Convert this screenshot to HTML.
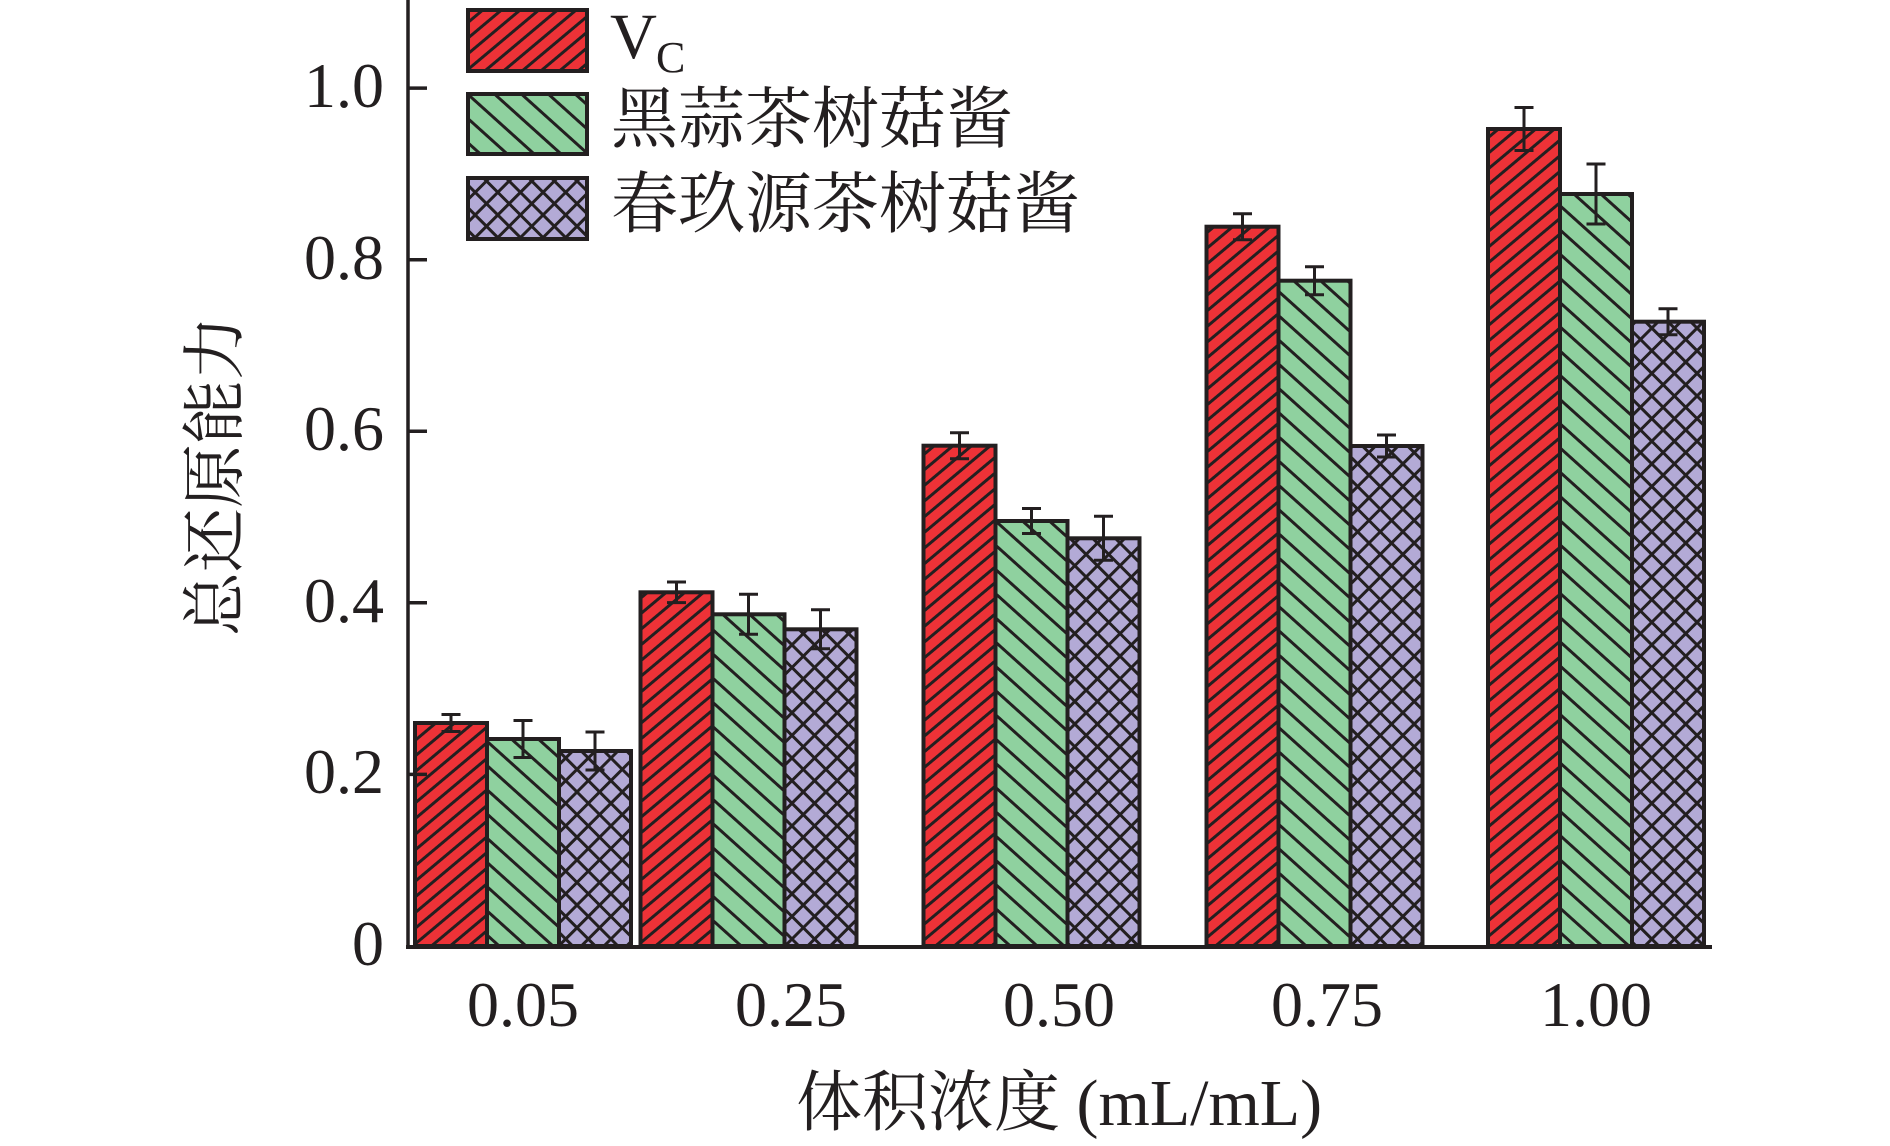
<!DOCTYPE html>
<html>
<head>
<meta charset="utf-8">
<style>
  html, body { margin: 0; padding: 0; background: #ffffff; }
  svg { display: block; }
  .num { font-family: "Liberation Serif", "Noto Serif CJK SC", serif; fill: #231f20; }
  .cjk { font-family: "Liberation Serif", "Noto Serif CJK SC", serif; fill: #231f20; }
</style>
</head>
<body>
<svg width="1890" height="1146" viewBox="0 0 1890 1146" xmlns="http://www.w3.org/2000/svg">
  <defs>
    <pattern id="pr" patternUnits="userSpaceOnUse" width="12" height="12" patternTransform="rotate(-40)">
      <rect width="12" height="12" fill="#ED3237"/>
      <line x1="-1" y1="6" x2="13" y2="6" stroke="#231f20" stroke-width="3"/>
    </pattern>
    <pattern id="pg" patternUnits="userSpaceOnUse" width="18" height="18" patternTransform="rotate(42)">
      <rect width="18" height="18" fill="#8FD19F"/>
      <line x1="-1" y1="9" x2="19" y2="9" stroke="#231f20" stroke-width="3"/>
    </pattern>
    <pattern id="pp" patternUnits="userSpaceOnUse" width="16" height="16" patternTransform="rotate(45)">
      <rect width="16" height="16" fill="#B3AAD6"/>
      <line x1="-1" y1="8" x2="17" y2="8" stroke="#231f20" stroke-width="3"/>
      <line x1="8" y1="-1" x2="8" y2="17" stroke="#231f20" stroke-width="3"/>
    </pattern>
  </defs>

  <!-- Bars -->
  <g stroke="#231f20" stroke-width="4">
    <!-- 0.05 -->
    <rect x="415" y="723" width="72" height="223" fill="url(#pr)"/>
    <rect x="487" y="739" width="72" height="207" fill="url(#pg)"/>
    <rect x="559" y="751" width="72" height="195" fill="url(#pp)"/>
    <!-- 0.25 -->
    <rect x="640.5" y="592.3" width="72" height="353.7" fill="url(#pr)"/>
    <rect x="712.5" y="614.3" width="72" height="331.7" fill="url(#pg)"/>
    <rect x="784.5" y="629.3" width="72" height="316.7" fill="url(#pp)"/>
    <!-- 0.50 -->
    <rect x="923.5" y="445.7" width="72" height="500.3" fill="url(#pr)"/>
    <rect x="995.5" y="521" width="72" height="425" fill="url(#pg)"/>
    <rect x="1067.5" y="538.3" width="72" height="407.7" fill="url(#pp)"/>
    <!-- 0.75 -->
    <rect x="1206.5" y="226.7" width="72" height="719.3" fill="url(#pr)"/>
    <rect x="1278.5" y="280.7" width="72" height="665.3" fill="url(#pg)"/>
    <rect x="1350.5" y="446" width="72" height="500" fill="url(#pp)"/>
    <!-- 1.00 -->
    <rect x="1488" y="129" width="72" height="817" fill="url(#pr)"/>
    <rect x="1560" y="194" width="72" height="752" fill="url(#pg)"/>
    <rect x="1632" y="321.7" width="72" height="624.3" fill="url(#pp)"/>
  </g>

  <!-- Error bars -->
  <g stroke="#231f20" stroke-width="3" fill="none">
    <path d="M451 714.5 V731.5 M441.5 714.5 H460.5 M441.5 731.5 H460.5"/>
    <path d="M523 720.5 V757.5 M513.5 720.5 H532.5 M513.5 757.5 H532.5"/>
    <path d="M595 732 V770 M585.5 732 H604.5 M585.5 770 H604.5"/>

    <path d="M676.5 582 V602.6 M667 582 H686 M667 602.6 H686"/>
    <path d="M748.5 594.3 V634.3 M739 594.3 H758 M739 634.3 H758"/>
    <path d="M820.5 609.8 V648.8 M811 609.8 H830 M811 648.8 H830"/>

    <path d="M959.5 432.7 V458.7 M950 432.7 H969 M950 458.7 H969"/>
    <path d="M1031.5 508.5 V533.5 M1022 508.5 H1041 M1022 533.5 H1041"/>
    <path d="M1103.5 516.3 V560.3 M1094 516.3 H1113 M1094 560.3 H1113"/>

    <path d="M1242.5 213.7 V239.7 M1233 213.7 H1252 M1233 239.7 H1252"/>
    <path d="M1314.5 266.7 V294.7 M1305 266.7 H1324 M1305 294.7 H1324"/>
    <path d="M1386.5 435 V457 M1377 435 H1396 M1377 457 H1396"/>

    <path d="M1524 107.5 V150.5 M1514.5 107.5 H1533.5 M1514.5 150.5 H1533.5"/>
    <path d="M1596 164 V224 M1586.5 164 H1605.5 M1586.5 224 H1605.5"/>
    <path d="M1668 308.7 V334.7 M1658.5 308.7 H1677.5 M1658.5 334.7 H1677.5"/>
  </g>

  <!-- Axes -->
  <g stroke="#231f20" fill="none">
    <line x1="408" y1="0" x2="408" y2="948" stroke-width="3.5"/>
    <line x1="406" y1="947" x2="1712" y2="947" stroke-width="4"/>
    <g stroke-width="3.5">
      <line x1="408" y1="88.1" x2="427" y2="88.1"/>
      <line x1="408" y1="259.7" x2="427" y2="259.7"/>
      <line x1="408" y1="431.3" x2="427" y2="431.3"/>
      <line x1="408" y1="602.8" x2="427" y2="602.8"/>
      <line x1="408" y1="774.4" x2="427" y2="774.4"/>
    </g>
  </g>

  <!-- Y tick labels -->
  <g class="num" font-size="64" text-anchor="end">
    <text x="384" y="107">1.0</text>
    <text x="384" y="279">0.8</text>
    <text x="384" y="450">0.6</text>
    <text x="384" y="622">0.4</text>
    <text x="384" y="793">0.2</text>
    <text x="384" y="965">0</text>
  </g>

  <!-- X tick labels (evenly spaced) -->
  <g class="num" font-size="64" text-anchor="middle">
    <text x="523" y="1026">0.05</text>
    <text x="791" y="1026">0.25</text>
    <text x="1059" y="1026">0.50</text>
    <text x="1327" y="1026">0.75</text>
    <text x="1596" y="1026">1.00</text>
  </g>

  <!-- Axis titles -->
  <text class="cjk" x="796" y="1125" font-size="66">体积浓度 (mL/mL)</text>
  <text class="cjk" font-size="64" text-anchor="middle" transform="translate(237,476) rotate(-90)">总还原能力</text>

  <!-- Legend -->
  <g stroke="#231f20" stroke-width="4">
    <rect x="468" y="10" width="119" height="61" fill="url(#pr)"/>
    <rect x="468" y="94" width="119" height="60" fill="url(#pg)"/>
    <rect x="468" y="178" width="119" height="61" fill="url(#pp)"/>
  </g>
  <text class="num" x="610" y="58" font-size="65">V</text>
  <text class="num" x="656" y="72" font-size="44">C</text>
  <text class="cjk" x="611" y="142" font-size="67">黑蒜茶树菇酱</text>
  <text class="cjk" x="611" y="227" font-size="67">春玖源茶树菇酱</text>
</svg>
</body>
</html>
